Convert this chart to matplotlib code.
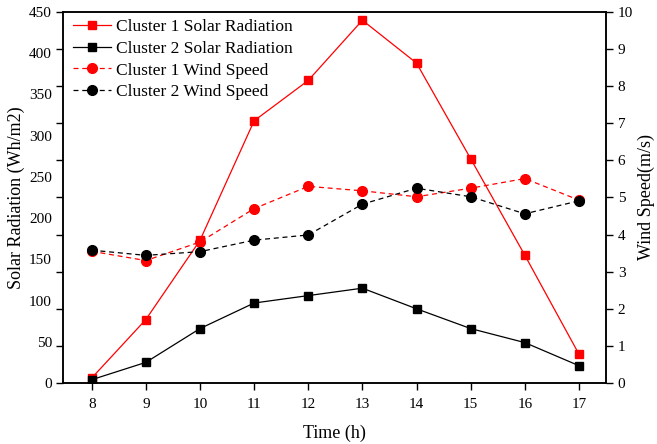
import numpy as np
import matplotlib.pyplot as plt
from matplotlib.ticker import FixedLocator, NullFormatter

plt.rcParams['font.family'] = ['Liberation Serif', 'DejaVu Serif']
plt.rcParams['mathtext.fontset'] = 'stix'

hours = [8, 9, 10, 11, 12, 13, 14, 15, 16, 17]
# solar radiation (Wh/m2)
c1_solar = [6, 77, 173, 318, 367, 440, 388, 272, 155, 35]
c2_solar = [4, 25, 66, 97, 106, 115, 90, 66, 49, 21]
# wind speed (m/s)
c1_wind = [3.55, 3.30, 3.80, 4.70, 5.30, 5.18, 5.02, 5.25, 5.51, 4.93]
c2_wind = [3.58, 3.44, 3.54, 3.85, 3.99, 4.82, 5.25, 5.02, 4.56, 4.91]

solar_labels = [0, 50, 100, 150, 200, 250, 300, 350, 400, 450]

fig = plt.figure(figsize=(6.57, 4.44), dpi=100)
ax = fig.add_axes([0.0959, 0.1374, 0.8265, 0.8356])
ax2 = ax.twinx()

l1, = ax.plot(hours, c1_solar, color='#ff0000', lw=0.9, marker='s', ms=6,
              label='Cluster 1 Solar Radiation')
l2, = ax.plot(hours, c2_solar, color='black', lw=0.9, marker='s', ms=6,
              label='Cluster 2 Solar Radiation')
l3, = ax2.plot(hours, c1_wind, color='#ff0000', lw=0.9, ls=(0, (4, 3)), marker='o', ms=7,
               label='Cluster 1 Wind Speed')
l4, = ax2.plot(hours, c2_wind, color='black', lw=0.9, ls=(0, (4, 3)), marker='o', ms=7,
               label='Cluster 2 Wind Speed')

ax.set_xlim(7.47, 17.5)
ax.set_ylim(0, 450)
ax2.set_ylim(0, 10)
ax.set_xticks(hours)

# tick marks every tenth of the range, labels every 50
ax.yaxis.remove_overlapping_locs = False
ax.yaxis.set_major_locator(FixedLocator(np.linspace(0, 450, 11)))
ax.yaxis.set_major_formatter(NullFormatter())
ax.yaxis.set_minor_locator(FixedLocator(solar_labels))
ax.set_yticklabels([str(v) for v in solar_labels], minor=True)
ax2.set_yticks(range(0, 11))

for a in (ax, ax2):
    a.tick_params(which='major', direction='out', length=5, width=1, labelsize=11)
    for s in a.spines.values():
        s.set_linewidth(1.1)
ax.tick_params(axis='y', which='minor', length=0, pad=8, labelsize=11)
ax.tick_params(axis='x', pad=6)

ax.set_xlabel('Time (h)', fontsize=13, labelpad=10)
ax.set_ylabel('Solar Radiation (Wh/m2)', fontsize=13, labelpad=3)
ax2.set_ylabel('Wind Speed(m/s)', fontsize=13, labelpad=3)

ax2.legend(handles=[l1, l2, l3, l4], loc='upper left', frameon=False, fontsize=12.5,
           handlelength=2.2, handletextpad=0.3, labelspacing=0.32,
           borderaxespad=0.0, bbox_to_anchor=(0.005, 1.0))

fig.savefig('out.png', dpi=100)
